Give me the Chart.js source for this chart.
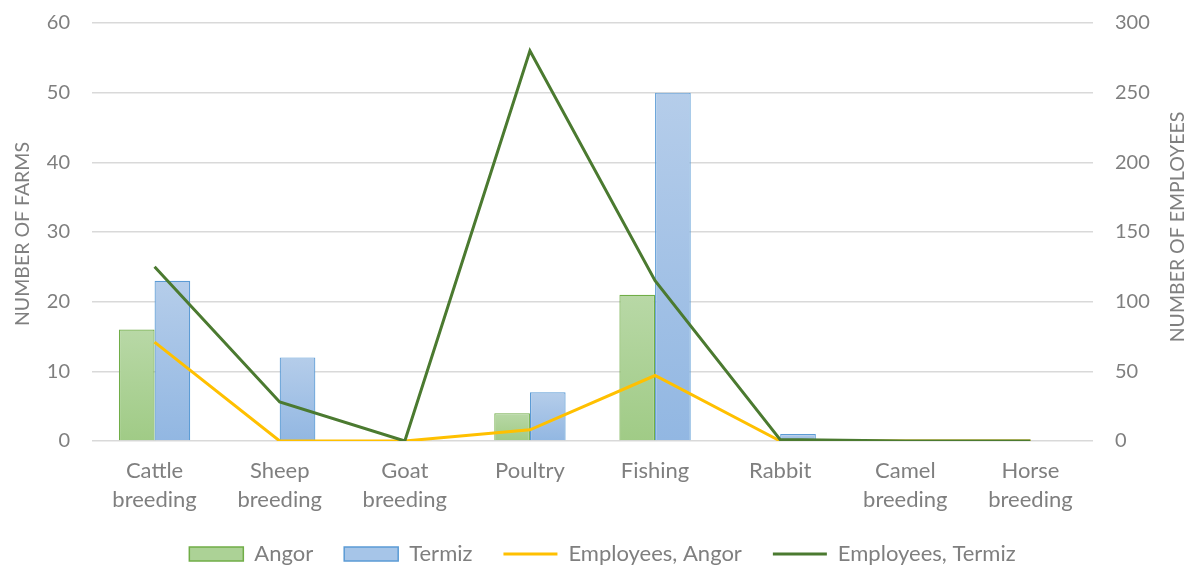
<!DOCTYPE html>
<html>
<head>
<meta charset="utf-8">
<script src="https://cdn.jsdelivr.net/npm/chart.js@4/dist/chart.umd.min.js"></script>
<style>
  html, body { margin: 0; padding: 0; background: #ffffff; }
  #wrap { width: 1187px; height: 567px; }
</style>
</head>
<body>
<div id="wrap"><canvas id="c" width="1187" height="567"></canvas></div>
<script>
// Farm types
const categories = [
  ['Cattle', 'breeding'], ['Sheep', 'breeding'], ['Goat', 'breeding'], 'Poultry',
  'Fishing', 'Rabbit', ['Camel', 'breeding'], ['Horse', 'breeding']
];
// Number of farms per district
const farmsAngor  = [16, 0, 0, 4, 21, 0, 0, 0];
const farmsTermiz = [23, 12, 0, 7, 50, 1, 0, 0];
// Number of employees per district
const employeesAngor  = [71, 0, 0, 8, 47, 0, 0, 0];
const employeesTermiz = [125, 28, 0, 280, 115, 1, 0, 0];

const farmsTicks = { min: 0, max: 60, step: 10 };
const employeesTicks = { min: 0, max: 300, step: 50 };

const FONT = 'Lato, "Open Sans", sans-serif';
const GREY = '#7f7f7f';

// vertical gradient running from the top of each bar down to its base
function barGradient(top, bottom) {
  return (ctx) => {
    const chart = ctx.chart;
    if (!chart.chartArea || ctx.parsed === undefined) return top;
    const y = chart.scales.y;
    const y0 = y.getPixelForValue(ctx.parsed.y);
    const y1 = y.getPixelForValue(0);
    if (Math.abs(y1 - y0) < 1) return bottom;
    const g = chart.ctx.createLinearGradient(0, y0, 0, y1);
    g.addColorStop(0, top);
    g.addColorStop(1, bottom);
    return g;
  };
}

// rotated axis titles, both reading bottom to top
const axisTitles = {
  id: 'axisTitles',
  afterDraw(chart) {
    const { ctx, chartArea } = chart;
    const cy = (chartArea.top + chartArea.bottom) / 2;
    ctx.save();
    ctx.fillStyle = GREY;
    ctx.font = '19.5px ' + FONT;
    ctx.textAlign = 'center';
    ctx.textBaseline = 'middle';
    [[23, cy + 2, 'NUMBER OF FARMS'], [1178, cy - 5, 'NUMBER OF EMPLOYEES']].forEach(([x, y, t]) => {
      ctx.save();
      ctx.translate(x, y);
      ctx.rotate(-Math.PI / 2);
      ctx.fillText(t, 0, 0);
      ctx.restore();
    });
    ctx.restore();
  }
};

// nudge the centred legend row a little to the right
const legendShift = {
  id: 'legendShift',
  afterLayout(chart) {
    chart.legend.right += 18;
  }
};

const legendStyles = [
  { fill: '#acd296', stroke: '#70ad47', style: 'rect', width: 1.5 },
  { fill: '#a6c5e8', stroke: '#5b9bd5', style: 'rect', width: 1.5 },
  { fill: '#ffc000', stroke: '#ffc000', style: 'line', width: 3 },
  { fill: '#4b7a30', stroke: '#4b7a30', style: 'line', width: 3 }
];

function trimAxisPadding(s) {
  s.paddingTop = 0;
  s.paddingBottom = 0;
}

new Chart(document.getElementById('c'), {
  data: {
    labels: categories,
    datasets: [
      {
        type: 'bar', label: 'Angor', data: farmsAngor, yAxisID: 'y', order: 3,
        backgroundColor: barGradient('#b8d8a6', '#a0cb86'),
        borderColor: '#70ad47', borderWidth: 1.2,
        barPercentage: 1, categoryPercentage: 0.57
      },
      {
        type: 'bar', label: 'Termiz', data: farmsTermiz, yAxisID: 'y', order: 3,
        backgroundColor: barGradient('#b5cdea', '#92b7e2'),
        borderColor: '#5b9bd5', borderWidth: 1.2,
        barPercentage: 1, categoryPercentage: 0.57
      },
      {
        type: 'line', label: 'Employees, Angor', data: employeesAngor, yAxisID: 'y1', order: 2,
        borderColor: '#ffc000', backgroundColor: '#ffc000', borderWidth: 3,
        pointRadius: 0, tension: 0
      },
      {
        type: 'line', label: 'Employees, Termiz', data: employeesTermiz, yAxisID: 'y1', order: 1,
        borderColor: '#4b7a30', backgroundColor: '#4b7a30', borderWidth: 3,
        pointRadius: 0, tension: 0
      }
    ]
  },
  options: {
    responsive: false,
    animation: false,
    layout: { padding: { top: 23, left: 0, right: 0, bottom: -8 } },
    plugins: {
      tooltip: { enabled: false },
      legend: {
        position: 'bottom',
        labels: {
          usePointStyle: true,
          pointStyleWidth: 54,
          boxHeight: 14,
          padding: 31,
          color: GREY,
          font: { family: FONT, size: 22 },
          generateLabels(chart) {
            return chart.data.datasets.map((ds, i) => ({
              text: ds.label,
              datasetIndex: i,
              fillStyle: legendStyles[i].fill,
              strokeStyle: legendStyles[i].stroke,
              lineWidth: legendStyles[i].width,
              pointStyle: legendStyles[i].style,
              fontColor: GREY,
              hidden: false
            }));
          }
        }
      }
    },
    scales: {
      x: {
        grid: { display: false },
        border: { display: false },
        ticks: {
          color: GREY, padding: 8, maxRotation: 0, autoSkip: false,
          font: { family: FONT, size: 22, lineHeight: 1.3 }
        },
        afterFit(s) { s.height = 71; }
      },
      y: {
        position: 'left',
        min: farmsTicks.min, max: farmsTicks.max,
        grid: { color: '#d9d9d9', lineWidth: 1.5, drawTicks: false },
        border: { display: false },
        ticks: { stepSize: farmsTicks.step, color: GREY, padding: 22, font: { family: FONT, size: 20 } },
        afterFit(s) { s.width = 92; trimAxisPadding(s); }
      },
      y1: {
        position: 'right',
        min: employeesTicks.min, max: employeesTicks.max,
        grid: { display: false, drawTicks: false },
        border: { display: false },
        ticks: { stepSize: employeesTicks.step, color: GREY, padding: 22, font: { family: FONT, size: 20 } },
        afterFit(s) { s.width = 94; trimAxisPadding(s); }
      }
    }
  },
  plugins: [axisTitles, legendShift]
});
</script>
</body>
</html>
